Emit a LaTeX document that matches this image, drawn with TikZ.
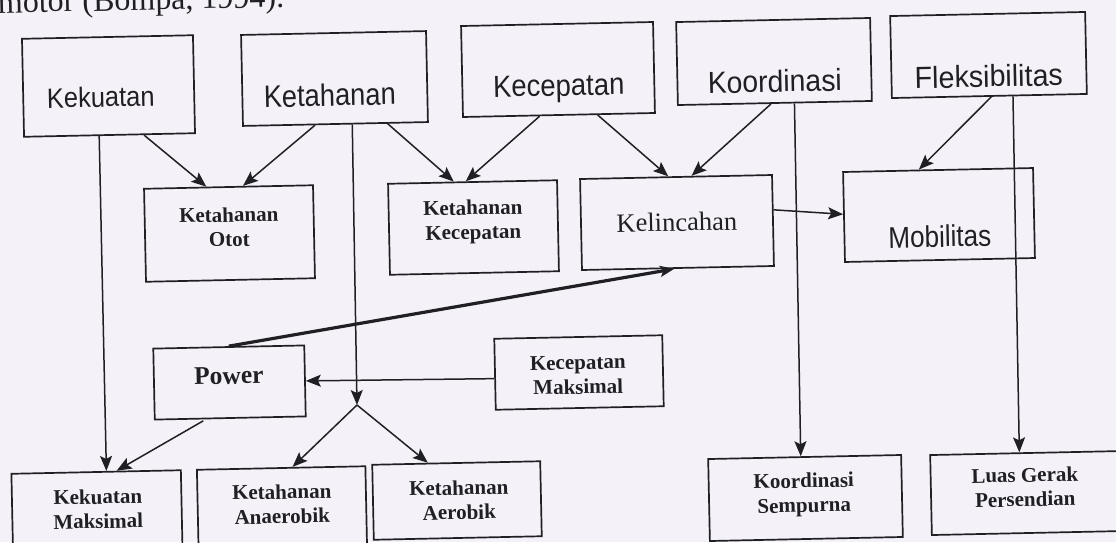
\documentclass[tikz,border=0pt]{standalone}
\usepackage{graphicx}
\usepackage{fontspec}
\setmainfont{Liberation Serif}
\newfontfamily\sansf{Liberation Sans}
\usetikzlibrary{arrows.meta,calc}
\definecolor{bg}{RGB}{244,242,248}
\definecolor{ink}{RGB}{32,32,36}
\newcommand\toplbl[3]{{\sansf\fontsize{#1}{#1}\selectfont\scalebox{#2}[1]{#3}}}
\begin{document}
\begin{tikzpicture}[x=1pt,y=-1pt,
  box/.style 2 args={draw=ink,line width=1.7pt,rotate=1.2,inner sep=0pt,
    minimum width=#1pt,minimum height=#2pt},
  tsans/.style={rotate=1.2,inner sep=0pt,text=ink,anchor=base},
  lowtxt/.style={rotate=1.2,inner sep=0pt,text=ink,align=center,
    font=\fontsize{21}{24.5}\selectfont\bfseries},
  arr/.style={draw=ink,line width=1.5pt,-{Stealth[length=15pt,width=12pt,inset=3pt]}},
  thickarr/.style={draw=ink,line width=3.2pt,-{Stealth[length=14pt,width=11pt,inset=3pt]}}]
\useasboundingbox[fill=bg] (0,0) rectangle (1116,542);
\clip (0,0) rectangle (1116,542);

% clipped line of the page text
\node[anchor=base west,inner sep=0pt,text=ink,rotate=1.2,font=\fontsize{32}{32}\selectfont] (cap) at (-2,13) {motor (Bompa, 1994).};

% top boxes
\node[box={171}{98}] (kek) at (108.5,86) {};
\node[box={185}{91}] (ket) at (334.5,78.5) {};
\node[box={192}{91}] (kec) at (558,69.5) {};
\node[box={194}{83}] (koo) at (774,61.5) {};
\node[box={195}{82}] (fle) at (988.5,55) {};
\node[tsans] (kekT) at (101,107) {\toplbl{28}{0.91}{Kekuatan}};
\node[tsans] (ketT) at (330,106) {\toplbl{31}{0.88}{Ketahanan}};
\node[tsans] (kecT) at (559,96) {\toplbl{30.5}{0.9}{Kecepatan}};
\node[tsans] (kooT) at (775,92) {\toplbl{30.5}{0.93}{Koordinasi}};
\node[tsans] (fleT) at (989,87) {\toplbl{30.5}{0.94}{Fleksibilitas}};

% middle boxes
\node[box={169}{93}] (oto) at (229.5,233.5) {};
\node[box={169}{91}] (kkc) at (473.5,227.5) {};
\node[box={192}{91}] (kel) at (677,222.5) {};
\node[box={190}{90}] (mob) at (939,215) {};
\node[lowtxt] (otoT) at (229,227) {Ketahanan\\Otot};
\node[lowtxt] (kkcT) at (473,222) {Ketahanan\\Kecepatan};
\node[tsans,font=\fontsize{26.5}{26.5}\selectfont] (kelT) at (677,231) {Kelincahan};
\node[tsans] (mobT) at (940,247) {\toplbl{30}{0.87}{Mobilitas}};

\node[box={151}{71}] (pow) at (229.5,382.5) {};
\node[box={168}{71}] (kmx) at (579,372.5) {};
\node[tsans,font=\fontsize{25.5}{25.5}\selectfont\bfseries] (powT) at (229,384) {Power};
\node[lowtxt] (kmxT) at (578,375) {Kecepatan\\Maksimal};

% bottom boxes
\node[box={169.5}{83}] (kma) at (97,513.5) {};
\node[box={168.5}{82}] (ana) at (282,509) {};
\node[box={168}{75}] (aer) at (457,500.5) {};
\node[box={193}{82}] (kse) at (805.5,498) {};
\node[box={194}{80}] (lgp) at (1028,493) {};
\node[lowtxt] (kmaT) at (98,509) {Kekuatan\\Maksimal};
\node[lowtxt] (anaT) at (282,504) {Ketahanan\\Anaerobik};
\node[lowtxt] (aerT) at (459,500) {Ketahanan\\Aerobik};
\node[lowtxt] (kseT) at (804,495) {Koordinasi\\Sempurna};
\node[lowtxt] (lgpT) at (1025,487) {Luas Gerak\\Persendian};

\coordinate (J) at (357,405);

% connectors
\draw[arr] ($(kek.south west)!0.44!(kek.south east)$) -- ($(kma.north west)!0.56!(kma.north east)$);
\draw[arr] ($(kek.south west)!0.70!(kek.south east)$) -- ($(oto.north west)!0.37!(oto.north east)$);
\draw[arr] ($(ket.south west)!0.39!(ket.south east)$) -- ($(oto.north west)!0.585!(oto.north east)$);
\draw[arr] ($(ket.south west)!0.59!(ket.south east)$) -- (J);
\draw[arr] (J) -- ($(ana.north west)!0.567!(ana.north east)$);
\draw[arr] (J) -- ($(aer.north west)!0.333!(aer.north east)$);
\draw[arr] ($(ket.south west)!0.78!(ket.south east)$) -- ($(kkc.north west)!0.39!(kkc.north east)$);
\draw[arr] ($(kec.south west)!0.40!(kec.south east)$) -- ($(kkc.north west)!0.46!(kkc.north east)$);
\draw[arr] ($(kec.south west)!0.70!(kec.south east)$) -- ($(kel.north west)!0.46!(kel.north east)$);
\draw[arr] ($(koo.south west)!0.48!(koo.south east)$) -- ($(kel.north west)!0.58!(kel.north east)$);
\draw[arr] ($(koo.south west)!0.60!(koo.south east)$) -- ($(kse.north west)!0.48!(kse.north east)$);
\draw[arr] ($(fle.south west)!0.51!(fle.south east)$) -- ($(mob.north west)!0.40!(mob.north east)$);
\draw[arr] ($(fle.south west)!0.62!(fle.south east)$) -- ($(lgp.north west)!0.46!(lgp.north east)$);
\draw[arr] ($(kel.north east)!0.385!(kel.south east)$) -- ($(mob.north west)!0.47!(mob.south west)$);
\draw[thickarr] (pow.north) -- ($(kel.south west)!0.48!(kel.south east)$);
\draw[arr] ($(kmx.north west)!0.56!(kmx.south west)$) -- (pow.east);
\draw[arr,shorten <=3pt] ($(pow.south west)!0.34!(pow.south east)$) -- ($(kma.north west)!0.62!(kma.north east)$);
\end{tikzpicture}
\end{document}
